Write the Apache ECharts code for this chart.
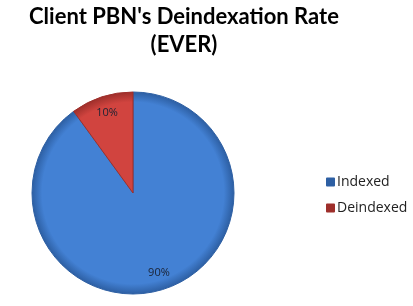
<!DOCTYPE html>
<html><head><meta charset="utf-8">
<style>html,body{margin:0;padding:0;background:#fff}#c{width:413px;height:306px}</style>
<script src="https://cdn.jsdelivr.net/npm/echarts@6/dist/echarts.min.js"></script>
</head><body><div id="c"></div>
<script>
const categories = ['Indexed', 'Deindexed'];
const values = [90, 10];
const titleLines = ["Client PBN's Deindexation Rate", "(EVER)"];
const colors = ['#4381D4', '#D1443F'];
const edgeColors = ['#2D5FA3', '#9E2F2B'];

const cx = 133, cy = 193, R = 101;
const chart = echarts.init(document.getElementById('c'), null, {renderer: 'canvas'});
const data = categories.map((n, i) => ({
  name: n, value: values[i],
  itemStyle: {
    color: {type: 'radial', x: cx, y: cy, r: R, global: true, colorStops: [
      {offset: 0, color: colors[i]}, {offset: 0.9, color: colors[i]}, {offset: 1, color: edgeColors[i]}]},
    borderColor: edgeColors[i], borderWidth: 1
  }
}));
chart.setOption({
  animation: false,
  graphic: [
    {type: 'text', x: 184, y: 6, style: {text: titleLines[0], align: 'center', verticalAlign: 'top',
      font: 'bold 22px Lato', fill: '#000'}},
    {type: 'text', x: 184, y: 34, style: {text: titleLines[1], align: 'center', verticalAlign: 'top',
      font: 'bold 22px Lato', fill: '#000'}}
  ],
  legend: {
    orient: 'vertical', left: 326, top: 175, padding: 0,
    itemWidth: 7, itemHeight: 7, itemGap: 12, icon: 'rect',
    textStyle: {fontFamily: 'Open Sans', fontSize: 14, color: '#222', padding: [0, 0, 0, -2]},
    data: categories
  },
  series: [{
    type: 'pie', center: [cx, cy], radius: [0, R],
    startAngle: 90, clockwise: true,
    label: {show: false}, labelLine: {show: false},
    data: data
  }, {
    type: 'pie', center: [cx, cy], radius: [61, R],
    startAngle: 90, clockwise: true, silent: true,
    itemStyle: {color: 'rgba(0,0,0,0)'},
    label: {show: true, position: 'inside', formatter: p => p.value + '%',
      fontFamily: 'Open Sans', fontSize: 11, color: '#1a2233'},
    labelLine: {show: false},
    data: categories.map((n, i) => ({name: n, value: values[i]}))
  }]
});
</script></body></html>
